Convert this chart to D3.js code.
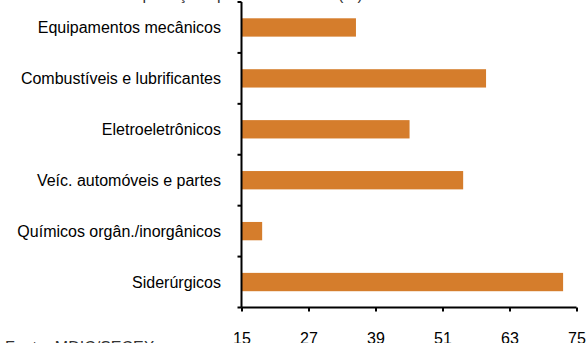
<!DOCTYPE html>
<html>
<head>
<meta charset="utf-8">
<script src="https://cdn.jsdelivr.net/npm/d3@7"></script>
<style>
  html, body { margin: 0; padding: 0; background: #fff; }
  svg { display: block; font-family: Arial, "Liberation Sans", sans-serif; }
</style>
</head>
<body>
<svg id="chart" width="586" height="343"></svg>
<script>
// Setores e variação (%)
const categories = [
  "Equipamentos mecânicos",
  "Combustíveis e lubrificantes",
  "Eletroeletrônicos",
  "Veíc. automóveis e partes",
  "Químicos orgân./inorgânicos",
  "Siderúrgicos"
];
const values = [35.5, 58.8, 45.1, 54.7, 18.7, 72.6];
const xTicks = [15, 27, 39, 51, 63, 75];
const titleText = "Crescimento das importações por setor – 2008 (%)";
const sourceText = "Fonte: MDIC/SECEX";

const svg = d3.select("#chart");
const plotLeft = 241.5, plotRight = 576.5, plotTop = 2, plotBottom = 307.5;
const fontSize = 16;

const x = d3.scaleLinear().domain([15, 75]).range([plotLeft, plotRight]);
const y = d3.scaleBand().domain(categories).range([plotTop, plotBottom]).paddingInner(0.64).paddingOuter(0.32);

// título (cortado no topo)
svg.append("text")
  .attr("x", 1).attr("y", -0.5)
  .attr("font-size", fontSize).attr("fill", "#333")
  .text(titleText);

// barras
svg.append("g").selectAll("rect")
  .data(values)
  .join("rect")
  .attr("x", x(15))
  .attr("y", (d, i) => y(categories[i]))
  .attr("width", d => x(d) - x(15))
  .attr("height", y.bandwidth())
  .attr("fill", "#D57D2C");

// rótulos das categorias
svg.append("g").selectAll("text")
  .data(categories)
  .join("text")
  .attr("x", 221)
  .attr("y", d => y(d) + y.bandwidth() / 2)
  .attr("dy", "0.36em")
  .attr("text-anchor", "end")
  .attr("font-size", fontSize)
  .attr("fill", "#000")
  .text(d => d);

// eixo Y com marcas nos limites das categorias
const step = (plotBottom - plotTop) / categories.length;
const yTickPos = d3.range(categories.length + 1).map(i => plotTop + i * step);
svg.append("line")
  .attr("x1", plotLeft).attr("x2", plotLeft)
  .attr("y1", plotTop).attr("y2", plotBottom)
  .attr("stroke", "#000").attr("stroke-width", 2);
svg.append("g").selectAll("line")
  .data(yTickPos)
  .join("line")
  .attr("x1", plotLeft - 4).attr("x2", plotLeft)
  .attr("y1", d => d).attr("y2", d => d)
  .attr("stroke", "#000").attr("stroke-width", 2);

// eixo X
const xAxis = d3.axisBottom(x).tickValues(xTicks).tickSize(4).tickPadding(21).tickFormat(d3.format("d"));
const gx = svg.append("g").attr("transform", `translate(0,${plotBottom})`).call(xAxis);
gx.select(".domain").attr("stroke", "#000").attr("stroke-width", 2).attr("d", `M${plotLeft},0H${plotRight}`);
gx.selectAll(".tick line").attr("stroke", "#000").attr("stroke-width", 2);
gx.selectAll(".tick text").attr("font-size", fontSize).attr("fill", "#000").attr("font-family", "Arial, 'Liberation Sans', sans-serif");

// fonte (cortada na base)
svg.append("text")
  .attr("x", 5).attr("y", 352.5)
  .attr("font-size", fontSize).attr("fill", "#333")
  .text(sourceText);
</script>
</body>
</html>
